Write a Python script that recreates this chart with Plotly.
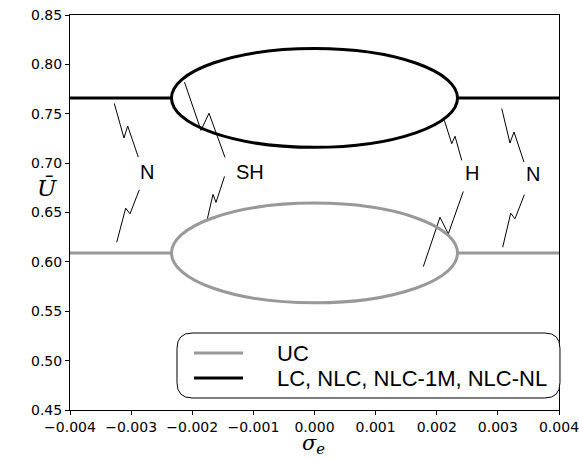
import plotly.graph_objects as go

# ---- data ----
x_range = [-0.004, 0.004]
y_range = [0.45, 0.85]
x_ticks = [-0.004, -0.003, -0.002, -0.001, 0.0, 0.001, 0.002, 0.003, 0.004]
y_ticks = [0.45, 0.50, 0.55, 0.60, 0.65, 0.70, 0.75, 0.80, 0.85]

series_names = ["UC", "LC, NLC, NLC-1M, NLC-NL"]
series_colors = ["#999999", "#000000"]
levels = [0.609, 0.766]          # stable branch value
ellipse_half_width = [0.00234, 0.00234]
ellipse_half_height = [0.0505, 0.050]

# zigzag label leaders (x list, y list) and labels
zig_left_N = ([-0.003275, -0.003117, -0.003056, -0.002883, None, -0.002866, -0.003018, -0.003089, -0.003236],
              [0.7604, 0.7254, 0.7376, 0.7061, None, 0.6730, 0.6487, 0.6544, 0.6198])
zig_SH = ([-0.002127, -0.001857, -0.001726, -0.001464, None, -0.001472, -0.001611, -0.001661, -0.001759],
          [0.7820, 0.7332, 0.7505, 0.7058, None, 0.6865, 0.6602, 0.6683, 0.6419])
zig_H = ([0.002124, 0.002245, 0.002299, 0.002409, None, 0.002434, 0.002189, 0.002053, 0.00178],
         [0.7434, 0.7197, 0.7272, 0.7028, None, 0.6713, 0.6284, 0.6452, 0.5952])
zig_right_N = ([0.003063, 0.003198, 0.003264, 0.003427, None, 0.003433, 0.00328, 0.00321, 0.003079],
               [0.7553, 0.7204, 0.7315, 0.7011, None, 0.6680, 0.6436, 0.6493, 0.6148])
label_text = ["N", "SH", "H", "N"]
label_x = [-0.00274, -0.00105, 0.00258, 0.00358]
label_y = [0.6906, 0.6906, 0.6896, 0.6886]

fig = go.Figure()
shapes = []
for name, col, lev, hw, hh in zip(series_names, series_colors, levels,
                                  ellipse_half_width, ellipse_half_height):
    fig.add_trace(go.Scatter(
        x=[x_range[0], -hw, None, hw, x_range[1]],
        y=[lev, lev, None, lev, lev],
        mode="lines", line=dict(color=col, width=3), name=name,
        showlegend=False, hoverinfo="skip"))
    shapes.append(dict(type="circle", xref="x", yref="y",
                       x0=-hw, x1=hw, y0=lev - hh, y1=lev + hh,
                       line=dict(color=col, width=3), layer="above"))

for zx, zy in [zig_left_N, zig_SH, zig_H, zig_right_N]:
    fig.add_trace(go.Scatter(x=zx, y=zy, mode="lines",
                             line=dict(color="black", width=1),
                             showlegend=False, hoverinfo="skip"))

annotations = []
for t, lx, ly in zip(label_text, label_x, label_y):
    annotations.append(dict(text=t, x=lx, y=ly, xref="x", yref="y",
                            showarrow=False,
                            font=dict(family="Liberation Sans", size=20, color="black")))

# axis titles
annotations.append(dict(text="<i>Ū</i>", x=-0.047, y=0.562, xref="paper", yref="paper",
                        showarrow=False, xanchor="center", yanchor="middle",
                        font=dict(family="DejaVu Serif", size=23, color="black")))
annotations.append(dict(text="<i>σ</i><sub><i>e</i></sub>", x=0.497, y=-0.086,
                        xref="paper", yref="paper", showarrow=False,
                        xanchor="center", yanchor="middle",
                        font=dict(family="DejaVu Serif", size=21, color="black")))

# legend (rounded box)
bx0, bx1, by0, by1 = 0.2188, 1.002, 0.0304, 0.1949
rx, ry = 0.031, 0.039
path = (f"M {bx0+rx},{by1} L {bx1-rx},{by1} Q {bx1},{by1} {bx1},{by1-ry} "
        f"L {bx1},{by0+ry} Q {bx1},{by0} {bx1-rx},{by0} "
        f"L {bx0+rx},{by0} Q {bx0},{by0} {bx0},{by0+ry} "
        f"L {bx0},{by1-ry} Q {bx0},{by1} {bx0+rx},{by1} Z")
shapes.append(dict(type="path", xref="paper", yref="paper", path=path,
                   line=dict(color="black", width=1), fillcolor="white", layer="above"))
leg_y = [0.1443, 0.081]
for name, col, ly in zip(series_names, series_colors, leg_y):
    shapes.append(dict(type="line", xref="paper", yref="paper",
                       x0=0.2536, x1=0.3538, y0=ly, y1=ly,
                       line=dict(color=col, width=3), layer="above"))
    annotations.append(dict(text=name, x=0.4192, y=ly, xref="paper", yref="paper",
                            xanchor="left", yanchor="middle", showarrow=False,
                            font=dict(family="Liberation Sans", size=22, color="black")))

axis_common = dict(showline=True, linecolor="black", linewidth=1, mirror=True,
                   ticks="outside", ticklen=4, tickwidth=1, tickcolor="black",
                   showgrid=False, zeroline=False, automargin=False,
                   ticklabeloverflow="allow",
                   tickfont=dict(family="DejaVu Sans", size=14, color="black"))
fig.update_layout(
    width=579, height=459,
    margin=dict(l=70, r=20, t=15, b=49, autoexpand=False),
    plot_bgcolor="white", paper_bgcolor="white",
    xaxis=dict(range=x_range, tickvals=x_ticks, tickformat=".3f", **axis_common),
    yaxis=dict(range=y_range, tickvals=y_ticks, tickformat=".2f", **axis_common),
    shapes=shapes, annotations=annotations, showlegend=False,
)
fig.write_html("out.html", config={"displayModeBar": False},
               post_script="document.body.style.margin='0';document.body.style.padding='0';")
